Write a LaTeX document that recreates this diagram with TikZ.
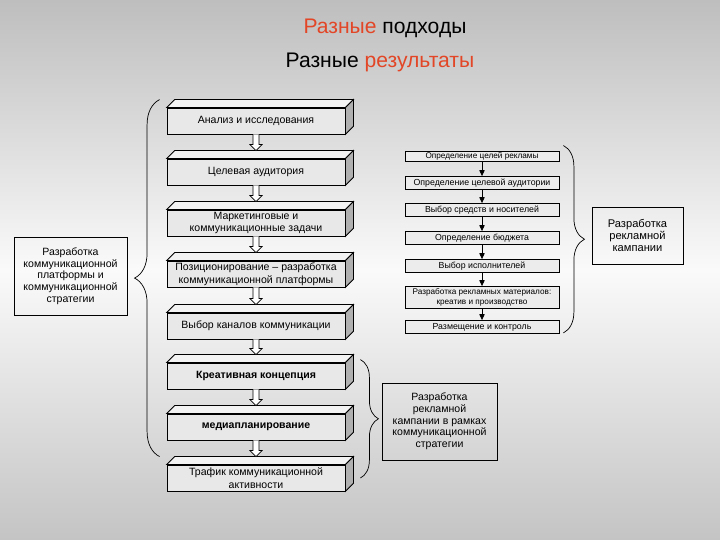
\documentclass[tikz,border=0pt]{standalone}
\usepackage{fontspec}
\setmainfont{Liberation Sans}
\usetikzlibrary{arrows.meta, calc, decorations.pathreplacing}

\definecolor{bgtop}{RGB}{190,190,190}
\definecolor{bgbot}{RGB}{196,196,196}
\definecolor{bgmid}{RGB}{250,250,250}
\definecolor{titlered}{RGB}{226,70,38}
\definecolor{slabfront}{RGB}{232,232,232}
\definecolor{slabtop}{RGB}{243,243,243}
\definecolor{slabside}{RGB}{176,176,176}
\definecolor{stepfill}{RGB}{236,236,236}

\begin{document}
\begin{tikzpicture}[x=0.03cm, y=-0.03cm, >={Triangle[length=5pt, width=4.5pt]},
  slab/.style={draw, line width=0.7pt, fill=slabfront, minimum width=5.34cm, minimum height=0.78cm,
    inner sep=1pt, align=center, font=\fontsize{9}{11}\selectfont},
  stepbox/.style={draw, line width=0.7pt, fill=stepfill, minimum width=4.62cm, minimum height=0.39cm,
    inner sep=1pt, align=center, font=\fontsize{7.5}{8.5}\selectfont},
  sidebox/.style={draw, line width=0.7pt, align=center, inner sep=2pt, font=\fontsize{9}{10}\selectfont},
  hollow/.style={draw, line width=0.6pt, fill=white},
  curly/.style={decorate, decoration={brace, amplitude=#1}, line width=0.6pt}]

  \useasboundingbox (0,0) rectangle (720,540);
  \shade[top color=bgtop, bottom color=bgbot, middle color=bgmid] (0,0) rectangle (720,540);

  \node[font=\fontsize{18}{22}\selectfont] (t1) at (385,28) {\textcolor{titlered}{Разные} подходы};
  \node[font=\fontsize{18}{22}\selectfont] (t2) at (380,62) {Разные \textcolor{titlered}{результаты}};

  \node[slab] (an) at (256,121) {Анализ и исследования};
  \node[slab] (ca) at (256,172) {Целевая аудитория};
  \node[slab] (mk) at (256,223) {Маркетинговые и\\коммуникационные задачи};
  \node[slab] (po) at (256,274) {Позиционирование – разработка\\коммуникационной платформы};
  \node[slab] (vk) at (256,326) {Выбор каналов коммуникации};
  \node[slab, font=\fontsize{9}{11}\selectfont\bfseries] (kk) at (256,376) {Креативная концепция};
  \node[slab, font=\fontsize{9}{11}\selectfont\bfseries] (mp) at (256,427) {медиапланирование};
  \node[slab] (tr) at (256,478) {Трафик коммуникационной\\активности};

  \foreach \s in {an,ca,mk,po,vk,kk,mp,tr} {
    \draw[line width=0.7pt, fill=slabtop] (\s.north west) -- ++(8,-8) -- ($(\s.north east)+(8,-8)$) -- (\s.north east) -- cycle;
    \draw[line width=0.7pt, fill=slabside] (\s.north east) -- ++(8,-8) -- ($(\s.south east)+(8,-8)$) -- (\s.south east) -- cycle;
  }

  \foreach \a/\b in {an/ca, ca/mk, mk/po, po/vk, vk/kk, kk/mp, mp/tr}
    \draw[hollow] ($(\a.south)+(-3,0)$) -- ($(\b.north)+(-3,-14)$) -- ($(\b.north)+(-6,-14)$)
      -- ($(\b.north)+(0,-8)$) -- ($(\b.north)+(6,-14)$) -- ($(\b.north)+(3,-14)$) -- ($(\a.south)+(3,0)$);

  \node[stepbox, minimum height=0.3cm, font=\fontsize{7}{8}\selectfont] (r1) at (482,156) {Определение целей рекламы};
  \node[stepbox] (r2) at (482,183) {Определение целевой аудитории};
  \node[stepbox] (r3) at (482,210) {Выбор средств и носителей};
  \node[stepbox] (r4) at (482,238) {Определение бюджета};
  \node[stepbox] (r5) at (482,266) {Выбор исполнителей};
  \node[stepbox, minimum height=0.66cm, font=\fontsize{7}{8}\selectfont] (r6) at (482,297.5) {Разработка рекламных материалов:\\креатив и производство};
  \node[stepbox] (r7) at (482,327) {Размещение и контроль};

  \foreach \a/\b in {r1/r2, r2/r3, r3/r4, r4/r5, r5/r6, r6/r7}
    \draw[->, line width=0.6pt] (\a) -- (\b);

  \node[sidebox, minimum width=3.39cm, minimum height=2.34cm] (lb) at (70.5,276)
    {Разработка\\коммуникационной\\платформы и\\коммуникационной\\стратегии};
  \node[sidebox, minimum width=2.73cm, minimum height=1.71cm, font=\fontsize{9.5}{10.5}\selectfont] (rb) at (637.5,235.5)
    {Разработка\\рекламной\\кампании};
  \node[sidebox, minimum width=3.45cm, minimum height=2.31cm] (bb) at (439.5,421.5)
    {Разработка\\рекламной\\кампании в рамках\\коммуникационной\\стратегии};

  \draw[curly=0.75cm] ($(tr.north west)+(-7,-8)$) -- ($(an.north west)+(-7,-8)$);
  \draw[curly=0.63cm] ($(r1.north east)+(4,-5)$) -- ($(r7.south east)+(4,-1)$);
  \draw[curly=0.54cm] ($(kk.north east)+(15,-3)$) -- ($(tr.east)+(15,0)$);
\end{tikzpicture}
\end{document}
